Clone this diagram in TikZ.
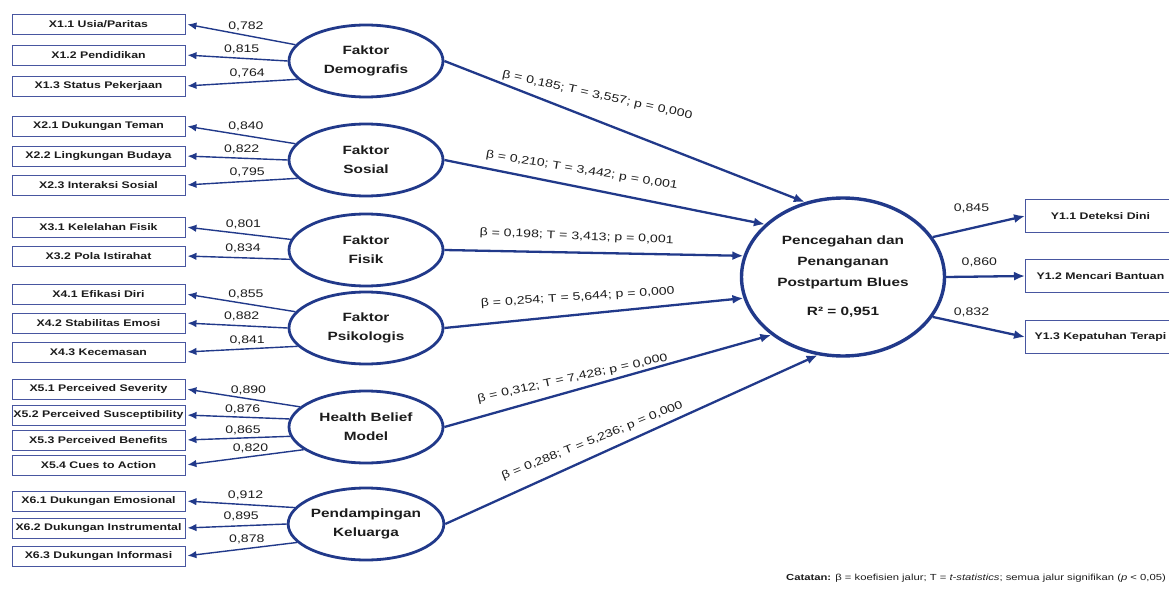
\documentclass[tikz,border=0pt]{standalone}
\usepackage{fontspec}
\setmainfont[FakeStretch=1.28]{Liberation Sans}
\usetikzlibrary{arrows.meta,shapes.geometric}
\definecolor{navy}{RGB}{33,57,138}
\definecolor{boxblue}{RGB}{72,86,160}
\definecolor{ink}{RGB}{28,28,28}

\begin{document}
\begin{tikzpicture}[x=1pt, y=-1pt,
  latent/.style = {draw=navy, ellipse, line width=2.8pt, minimum width=154pt, minimum height=72pt, inner sep=0pt, align=center, text=ink, font=\bfseries\fontsize{12}{19}\selectfont},
  ind/.style = {draw=boxblue, line width=0.9pt, rectangle, minimum width=173pt, minimum height=20pt, inner sep=1pt, text=ink, font=\bfseries\fontsize{9.6}{11}\selectfont},
  outind/.style = {ind, minimum width=150pt, minimum height=33pt, anchor=west},
  load/.style = {draw=navy, line width=1.4pt, -{Latex[length=9pt, width=7.5pt]}, shorten >=2pt},
  effect/.style = {draw=navy, line width=2.3pt, -{Latex[length=11pt, width=9pt]}},
  coef/.style = {text=ink, font=\fontsize{11}{13}\selectfont, inner sep=1pt}]

\useasboundingbox (0,0) rectangle (1169,596);

% latent constructs
\node[latent] (demo) at (366,61) {Faktor\\Demografis};
\node[latent] (sos) at (366,160) {Faktor\\Sosial};
\node[latent] (fis) at (366,250) {Faktor\\Fisik};
\node[latent] (psi) at (366,328) {Faktor\\Psikologis};
\node[latent] (hbm) at (366,427) {Health Belief\\Model};
\node[latent] (pend) at (366,524) {Pendampingan\\Keluarga};
\node[latent, minimum width=203pt, minimum height=158pt, line width=3.4pt, font=\bfseries\fontsize{12}{21}\selectfont] (ppb) at (843,277) {Pencegahan dan\\Penanganan\\Postpartum Blues\\[8pt]R² = 0,951};

% indicators
\node[ind] (x11) at (98.5,24) {X1.1 Usia/Paritas};
\node[ind] (x12) at (98.5,55) {X1.2 Pendidikan};
\node[ind] (x13) at (98.5,86) {X1.3 Status Pekerjaan};
\node[ind] (x21) at (98.5,126) {X2.1 Dukungan Teman};
\node[ind] (x22) at (98.5,156) {X2.2 Lingkungan Budaya};
\node[ind] (x23) at (98.5,185) {X2.3 Interaksi Sosial};
\node[ind] (x31) at (98.5,227) {X3.1 Kelelahan Fisik};
\node[ind] (x32) at (98.5,256) {X3.2 Pola Istirahat};
\node[ind] (x41) at (98.5,294) {X4.1 Efikasi Diri};
\node[ind] (x42) at (98.5,323) {X4.2 Stabilitas Emosi};
\node[ind] (x43) at (98.5,352) {X4.3 Kecemasan};
\node[ind] (x51) at (98.5,389) {X5.1 Perceived Severity};
\node[ind] (x52) at (98.5,415) {X5.2 Perceived Susceptibility};
\node[ind] (x53) at (98.5,440) {X5.3 Perceived Benefits};
\node[ind] (x54) at (98.5,465) {X5.4 Cues to Action};
\node[ind] (x61) at (98.5,501) {X6.1 Dukungan Emosional};
\node[ind] (x62) at (98.5,528) {X6.2 Dukungan Instrumental};
\node[ind] (x63) at (98.5,556) {X6.3 Dukungan Informasi};
\node[outind] (y11) at (1025,216) {Y1.1 Deteksi Dini};
\node[outind] (y12) at (1025,276) {Y1.2 Mencari Bantuan};
\node[outind] (y13) at (1025,337) {Y1.3 Kepatuhan Terapi};

% loadings
\draw[load] (demo.167) -- node[coef, pos=.45, yshift=9pt] {0,782} (x11.east);
\draw[load] (demo.180) -- node[coef, pos=.45, yshift=9pt] {0,815} (x12.east);
\draw[load] (demo.195) -- node[coef, pos=.45, yshift=9pt] {0,764} (x13.east);
\draw[load] (sos.167) -- node[coef, pos=.45, yshift=9pt] {0,840} (x21.east);
\draw[load] (sos.180) -- node[coef, pos=.45, yshift=9pt] {0,822} (x22.east);
\draw[load] (sos.195) -- node[coef, pos=.45, yshift=9pt] {0,795} (x23.east);
\draw[load] (fis.172) -- node[coef, pos=.45, yshift=9pt] {0,801} (x31.east);
\draw[load] (fis.187) -- node[coef, pos=.45, yshift=9pt] {0,834} (x32.east);
\draw[load] (psi.167) -- node[coef, pos=.45, yshift=9pt] {0,855} (x41.east);
\draw[load] (psi.180) -- node[coef, pos=.45, yshift=9pt] {0,882} (x42.east);
\draw[load] (psi.195) -- node[coef, pos=.45, yshift=9pt] {0,841} (x43.east);
\draw[load] (hbm.163) -- node[coef, pos=.45, yshift=8pt] {0,890} (x51.east);
\draw[load] (hbm.174) -- node[coef, pos=.45, yshift=8pt] {0,876} (x52.east);
\draw[load] (hbm.187) -- node[coef, pos=.45, yshift=8pt] {0,865} (x53.east);
\draw[load] (hbm.200) -- node[coef, pos=.45, yshift=8pt] {0,820} (x54.east);
\draw[load] (pend.167) -- node[coef, pos=.45, yshift=9pt] {0,912} (x61.east);
\draw[load] (pend.180) -- node[coef, pos=.45, yshift=9pt] {0,895} (x62.east);
\draw[load] (pend.195) -- node[coef, pos=.45, yshift=9pt] {0,878} (x63.east);
\draw[effect] (ppb.24) -- node[coef, pos=.42, yshift=20pt] {0,845} (y11.west);
\draw[effect] (ppb.0) -- node[coef, pos=.42, yshift=14pt] {0,860} (y12.west);
\draw[effect] (ppb.-24) -- node[coef, pos=.42, yshift=13pt] {0,832} (y13.west);

% structural paths
\draw[effect] (demo.east) -- node[coef, pos=.41, rotate=-12.4, yshift=24pt] {β = 0,185; T = 3,557; p = 0,000} (ppb.117);
\draw[effect] (sos.east) -- node[coef, pos=.42, rotate=-9.4, yshift=17pt] {β = 0,210; T = 3,442; p = 0,001} (ppb.146);
\draw[effect] (fis.east) -- node[coef, pos=.44, rotate=-2.3, yshift=16pt] {β = 0,198; T = 3,413; p = 0,001} (ppb.168);
\draw[effect] (psi.east) -- node[coef, pos=.45, rotate=3.8, yshift=17pt] {β = 0,254; T = 5,644; p = 0,000} (ppb.192);
\draw[effect] (hbm.east) -- node[coef, pos=.40, rotate=12.4, yshift=12pt] {β = 0,312; T = 7,428; p = 0,000} (ppb.219);
\draw[effect] (pend.east) -- node[coef, pos=.41, rotate=22, yshift=15pt] {β = 0,288; T = 5,236; p = 0,000} (ppb.252);

\node[anchor=east, text=ink, inner sep=0pt, font=\fontsize{8.8}{10}\selectfont] (note) at (1166,578) {\textbf{Catatan:} β = koefisien jalur; T = \textit{t-statistics}; semua jalur signifikan (\textit{p} < 0,05)};
\end{tikzpicture}
\end{document}
